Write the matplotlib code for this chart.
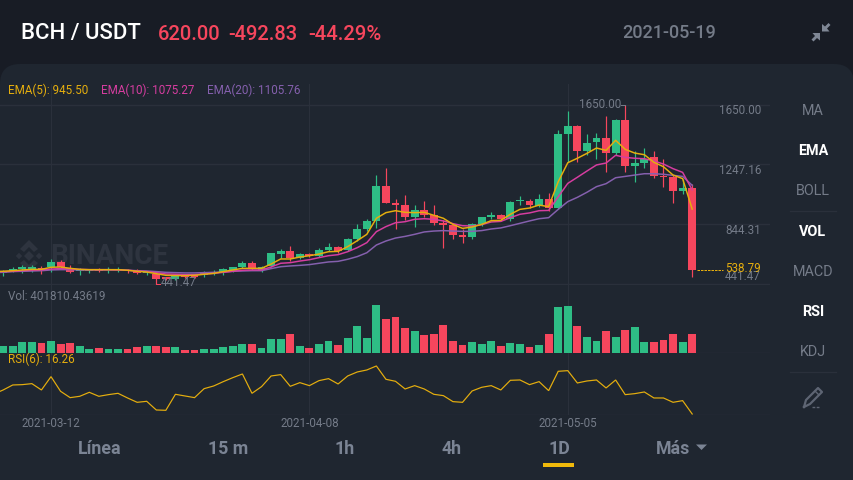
import matplotlib
matplotlib.use("Agg")
import matplotlib.pyplot as plt
from matplotlib.patches import FancyBboxPatch, Polygon

plt.rcParams['font.family'] = ['Roboto', 'DejaVu Sans']

# ---------------- data ----------------
first_index = -5
opens = [518,529,540,542,547,554,592,547,527,529,540,534,534,536,529,513,511,491,475,500,500,500,513,525,531,554,581,538,
         563,646,661,619,643,632,670,688,670,742,814,866,1101,989,971,890,937,906,852,839,771,758,848,890,908,881,998,1000,
         969,1014,951,1451,1505,1339,1395,1425,1321,1543,1236,1256,1294,1169,1164,1070,1088]
closes = [531,545,554,556,538,592,554,525,534,536,531,538,540,527,513,525,475,473,498,491,491,518,522,540,554,581,542,558,
          648,661,614,643,630,670,688,666,744,814,863,1101,989,971,890,937,904,852,841,771,760,848,890,908,877,994,1005,973,
          1014,951,1451,1505,1339,1393,1425,1321,1543,1236,1254,1285,1169,1162,1070,1088,538.79]
highs = [536,554,569,567,563,610,603,567,547,545,547,554,554,545,540,531,525,491,509,509,509,527,536,547,558,599,594,563,
         652,675,697,652,650,682,715,700,751,845,877,1173,1220,1012,1041,971,1000,973,872,845,812,850,890,929,913,1000,1034,1012,
         1045,1052,1478,1606,1510,1449,1456,1573,1550,1650,1339,1359,1337,1281,1175,1146,1115]
lows = [498,522,518,525,509,525,545,518,504,513,525,518,525,516,507,504,441.47,468,468,482,480,491,504,502,525,547,536,522,
        558,614,596,608,621,626,664,652,664,733,801,816,985,810,872,828,895,839,686,747,715,747,832,877,866,868,971,953,
        958,933,946,1265,1265,1310,1281,1198,1310,1198,1130,1220,1157,1097,989,1047,491]
volumes = [151,144,230,244,208,258,194,215,144,86,108,93,79,79,129,151,151,136,122,65,65,86,86,129,151,201,187,108,
           294,309,402,144,115,194,265,165,323,588,330,1033,732,775,538,474,387,416,603,258,165,237,194,251,151,208,187,122,
           172,402,983,1019,574,352,258,481,352,488,552,244,237,280,402,230,401.81]

line_first_index = -6
ema5 = [525,527,531,536,540,540,554,556,547,540,538,538,538,538,534,527,522,511,500,498,498,500,507,513,525,536,547,547,547,
        576,610,610,623,632,643,659,661,693,733,776,884,922,935,924,922,924,904,884,843,816,825,843,868,870,911,944,953,973,
        962,1130,1258,1288,1321,1357,1341,1409,1348,1323,1312,1261,1231,1175,1151,945.5]
ema10 = [524,525,527,531,534,536,542,545,542,540,538,538,538,536,534,529,525,518,509,507,504,504,509,513,520,527,534,536,536,
         556,581,585,596,605,619,632,639,659,686,720,794,828,854,861,877,881,877,866,848,834,832,841,859,863,888,911,920,935,
         937,1029,1119,1160,1202,1243,1256,1308,1294,1288,1285,1270,1249,1218,1193,1075.27]
ema20 = [518,520,525,527,529,531,536,538,538,536,536,536,536,536,534,531,529,525,520,518,516,516,518,520,522,527,529,531,531,
         545,558,563,567,572,581,590,594,608,626,652,704,731,751,762,776,792,798,801,798,796,796,801,812,819,834,850,866,881,
         888,944,996,1025,1059,1097,1117,1157,1166,1175,1184,1184,1180,1173,1166,1105.76]
rsi6 = [46,52.3,59.8,60.3,61.8,52.3,72.3,50.3,40.8,42.8,48.8,42.8,45.3,47.3,40.3,33.8,35.3,22.3,21.8,45.8,43.3,40.8,54.3,58.3,64.8,
        70.8,76.3,47.3,57.3,73.3,75.3,57.8,63.3,58.8,66.3,69.3,61.3,73.3,79.3,82.3,88.3,68.3,65.3,53.8,58.8,53.8,45.8,43.8,
        34.8,33.8,50.8,56.3,58.8,52.3,66.8,67.3,60.3,64.8,51.3,80.3,81.3,62.8,65.8,67.3,55.3,67.3,45.3,46.8,49.3,40.3,40.3,33.8,36.3,16.26]

price_ticks = [1650.00, 1247.16, 844.31, 441.47]
price_tick_labels = ['1650.00', '1247.16', '844.31', '441.47']
date_indices = [0, 27, 54]
date_labels = ['2021-03-12', '2021-04-08', '2021-05-05']
menu_items = ['MA', 'EMA', 'BOLL', 'VOL', 'MACD', 'RSI', 'KDJ']
menu_active = ['EMA', 'VOL', 'RSI']
tabs = ['Línea', '15 m', '1h', '4h', '1D', 'Más']
last_price = 538.79

# ---------------- style ----------------
W, H = 854, 480
BG = '#181c25'
PANEL = '#1f2630'
GRID = '#2a303b'
GREEN = '#2ebd85'
RED = '#f6465d'
YELLOW = '#e5ae0e'
PINK = '#d63da0'
PURPLE = '#8560ae'
GREY = '#747b88'
TAB = '#7b8494'
PX = 0.72  # points per pixel at dpi 100
LW = 0.72
SMALL = 11.6

fig = plt.figure(figsize=(W / 100, H / 100), dpi=100, facecolor=BG)

# pixel-space canvas for the chrome
bg = fig.add_axes([0, 0, 1, 1], zorder=0)
bg.set_xlim(0, W); bg.set_ylim(H, 0); bg.axis('off')
bg.add_patch(FancyBboxPatch((0, 64), W, 460, boxstyle='round,pad=0,rounding_size=20',
                            fc=PANEL, ec='none'))

# watermark
wm = '#2e343f'
bg.text(50, 256, 'BINANCE', color=wm, fontsize=28 * PX, fontweight='bold', va='center', ha='left')
for cx, cy, r in [(29, 256, 5), (19, 256, 3.2), (39, 256, 3.2)]:
    bg.add_patch(Polygon([(cx - r, cy), (cx, cy - r), (cx + r, cy), (cx, cy + r)], fc=wm, ec='none'))
bg.add_patch(Polygon([(29, 240), (38, 249), (34, 252), (29, 247), (24, 252), (20, 249)], fc=wm, ec='none'))
bg.add_patch(Polygon([(29, 272), (38, 263), (34, 260), (29, 265), (24, 260), (20, 263)], fc=wm, ec='none'))


def make_axes(top, bottom):
    ax = fig.add_axes([0, 1 - bottom / H, 770 / W, (bottom - top) / H], zorder=1)
    ax.patch.set_alpha(0)
    for s in ax.spines.values():
        s.set_visible(False)
    ax.set_xlim(-5.33, 75.13)
    ax.tick_params(length=0)
    ax.set_xticks(date_indices)
    ax.set_xticklabels([])
    ax.set_yticks([])
    ax.grid(True, axis='x', color=GRID, lw=1 * LW)
    ax.set_axisbelow(True)
    return ax


idx = [first_index + i for i in range(len(opens))]
lidx = [line_first_index + i for i in range(len(ema5))]
colors = [GREEN if c >= o else RED for o, c in zip(opens, closes)]

# price panel
PX_PER = 6.733
ax = make_axes(84, 284.5)
ax.set_ylim(441.47 - 0.5 * PX_PER, 441.47 + 200 * PX_PER)
ax.set_yticks(price_ticks)
ax.set_yticklabels([])
ax.grid(True, axis='y', color=GRID, lw=1.4 * LW)
ax.vlines(idx, lows, highs, colors=colors, lw=1.2 * LW, zorder=3)
ax.bar(idx, [abs(c - o) for o, c in zip(opens, closes)], bottom=[min(o, c) for o, c in zip(opens, closes)],
       width=0.82, color=colors, zorder=4)
ax.plot(lidx, ema20, color=PURPLE, lw=1.5 * LW, zorder=5)
ax.plot(lidx, ema10, color=PINK, lw=1.5 * LW, zorder=6)
ax.plot(lidx, ema5, color=YELLOW, lw=1.5 * LW, zorder=7)
ax.plot([idx[-1] + 0.45, idx[-1] + 3.2], [last_price, last_price], color=YELLOW, lw=1 * LW, ls=(0, (2.5, 1)), zorder=5)

# volume panel
vx = make_axes(284.5, 353)
vx.set_ylim(0, 68.5 * 21.525)
vx.bar(idx, volumes, width=0.82, color=colors, zorder=3)
vx.set_yticks([0]); vx.set_yticklabels([])
vx.grid(True, axis='y', color=GRID, lw=1.4 * LW)

# RSI panel
rx = make_axes(353, 415)
rx.set_ylim(211.26 - 0.5 * 390 - 1.5, 211.26 - 0.5 * 390 - 1.5 + 62 * 1.5)
rx.plot(lidx, rsi6, color=YELLOW, lw=1.2 * LW, zorder=3, solid_joinstyle='miter')
rx.set_yticks([211.26 - 0.5 * 390 - 1.0]); rx.set_yticklabels([])
rx.grid(True, axis='y', color=GRID, lw=1.4 * LW)
rx.set_xticklabels(date_labels, color=GREY, fontsize=SMALL * PX)
rx.tick_params(axis='x', pad=1.2)

# overlay text
top = fig.add_axes([0, 0, 1, 1], zorder=2)
top.set_xlim(0, W); top.set_ylim(H, 0); top.axis('off'); top.patch.set_alpha(0)


def T(x, y, s, c=GREY, px=SMALL, ha='left', w='normal'):
    return top.text(x, y, s, color=c, fontsize=px * PX, ha=ha, va='center', fontweight=w)


T(21, 34, 'BCH / USDT', 'white', 22.2, w='medium')
T(158, 34, '620.00', RED, 20.1, w='medium')
T(228.5, 34, '-492.83', RED, 20.1, w='medium')
T(308, 34, '-44.29%', RED, 20.3, w='medium')
T(622, 33, '2021-05-19', GREY, 18, w='medium')

T(8, 90, 'EMA(5): 945.50', YELLOW)
T(101, 90, 'EMA(10): 1075.27', PINK)
T(207, 90, 'EMA(20): 1105.76', PURPLE)
T(8, 297, 'Vol: 401810.43619', GREY)
T(8, 359, 'RSI(6): 16.26', YELLOW)

for lbl, y in zip(price_tick_labels, [111, 171, 231, 276]):
    T(761, y, lbl, GREY, ha='right')
T(761, 269, f'{last_price:.2f}', YELLOW, ha='right')

T(579, 104.5, '1650.00', GREY)
top.plot([621, 625], [104.5, 104.5], color=GREY, lw=LW)
T(161, 283, '441.47', GREY)
top.plot([156, 160], [284, 284], color=RED, lw=LW)

# side menu
for item, y in zip(menu_items, [111, 151, 191, 232, 272, 312, 352]):
    on = item in menu_active
    T(813, y, item, 'white' if on else GREY, 14.4, ha='center', w='bold' if on else 'normal')
for y in (210.5, 371.5):
    top.plot([790, 836], [y, y], color=GRID, lw=LW * 1.2)

# pen icon
ic = '#5e6573'
top.plot([804, 806, 818, 822, 810, 804, 804], [407, 400, 388, 392, 404, 407, 407], color=ic, lw=2.2 * LW)
top.plot([812, 820], [407, 407], color=ic, lw=1.4 * LW, ls=(0, (2, 1)))
top.plot([815, 819], [391, 395], color=ic, lw=1.4 * LW)

# collapse icon
ci = '#7f8795'
top.add_patch(Polygon([(822, 31.5), (822, 24), (825, 26.5), (828.5, 23), (830.5, 25), (827, 28.5), (829.5, 31.5)], fc=ci, ec='none'))
top.add_patch(Polygon([(820, 33), (820, 40.5), (817, 38), (813.5, 41.5), (811.5, 39.5), (815, 36), (812.5, 33)], fc=ci, ec='none'))

# tabs
for t, cx in zip(tabs, [100, 228.5, 345, 452, 559.5, 673.5]):
    T(cx, 449.5, t, TAB, 17.8, ha='center', w='bold')
top.add_patch(Polygon([(696, 444.5), (707, 444.5), (701.5, 450)], fc=TAB, ec='none'))
top.fill_between([543, 574], 463, 467, color='#f0b90b', lw=0)

fig.savefig('out.png', dpi=100, facecolor=BG)
